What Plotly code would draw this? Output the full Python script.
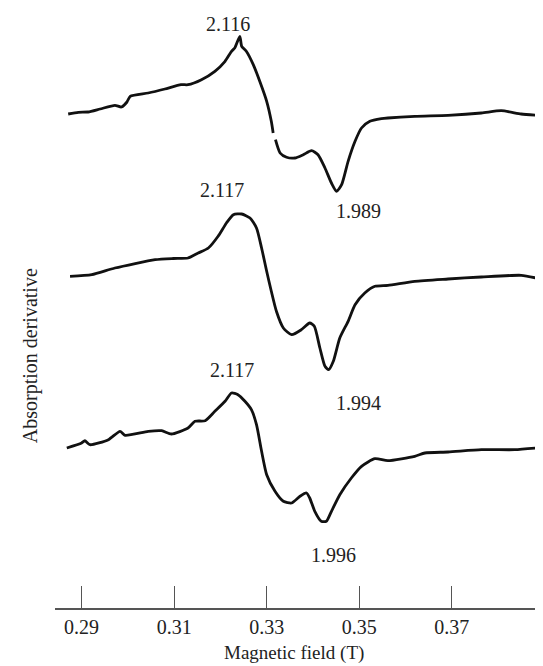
import plotly.graph_objects as go

# Magnetic field (T) and derivative signal (arbitrary units, baseline = 0)
field_a = [0.2871, 0.2893, 0.2914, 0.2940, 0.2972, 0.2986, 0.2998, 0.3005, 0.3044, 0.3080,
           0.3115, 0.3130, 0.3159, 0.3188, 0.3210, 0.3224, 0.3231, 0.3242, 0.3246, 0.3256,
           0.3271, 0.3285, 0.3300, 0.3310, 0.3314, None, 0.3319, 0.3329, 0.3343, 0.3361,
           0.3379, 0.3397, 0.3411, 0.3426, 0.3440, 0.3451, 0.3462, 0.3476, 0.3491, 0.3505,
           0.3523, 0.3548, 0.3562, 0.3620, 0.3692, 0.3764, 0.3807, 0.3850, 0.3883]
signal_a = [0, 1.7, 2, 5, 8.7, 7, 12, 17.7, 21, 25,
            29.3, 29.3, 34.3, 42.7, 52.7, 62.7, 66, 77.7, 67.7, 62.7,
            49.3, 32.7, 12.7, -7.3, -19, None, -25.7, -39, -43.3, -44,
            -40.7, -36.7, -40.7, -54, -69, -77.3, -70.7, -47.3, -27.3, -14,
            -7.3, -4.7, -4, -2.3, -1.3, 1, 3.3, 0, -1.3]

field_b = [0.2875, 0.2922, 0.2972, 0.3059, 0.3098, 0.3130, 0.3152, 0.3174, 0.3195, 0.3213,
           0.3228, 0.3246, 0.3264, 0.3278, 0.3289, 0.3300, 0.3310, 0.3321, 0.3336, 0.3354,
           0.3375, 0.3393, 0.3403, 0.3415, 0.3426, 0.3434, 0.3444, 0.3458, 0.3476, 0.3491,
           0.3512, 0.3534, 0.3562, 0.3620, 0.3692, 0.3764, 0.3850, 0.3883]
signal_b = [-0.3, 1.3, 8, 16.3, 17.5, 18, 23, 28, 39.7, 53,
            61.3, 62, 58, 48, 28, 4.7, -15.3, -35.3, -52, -58.7,
            -53.7, -47, -50.3, -72, -90.3, -93.7, -85.3, -62, -45.3, -28.7,
            -17, -10.3, -9.3, -5.3, -3, -1, 0.7, -2]

field_c = [0.2868, 0.2900, 0.2907, 0.2918, 0.2958, 0.2983, 0.2994, 0.3044, 0.3073, 0.3094,
           0.3130, 0.3145, 0.3167, 0.3188, 0.3210, 0.3224, 0.3238, 0.3253, 0.3267, 0.3278,
           0.3289, 0.3300, 0.3318, 0.3336, 0.3354, 0.3372, 0.3386, 0.3393, 0.3404, 0.3418,
           0.3429, 0.3440, 0.3458, 0.3483, 0.3505, 0.3534, 0.3562, 0.3620, 0.3642, 0.3692,
           0.3764, 0.3836, 0.3883]
signal_c = [0, 5, 7.3, 3.3, 8.3, 16.7, 12.7, 16.7, 17.3, 14,
            20, 26.7, 27.3, 36.7, 46.7, 55, 53.3, 46.7, 38.3, 23.3,
            -3.3, -26.7, -43.3, -53.3, -55, -48.3, -45, -50, -63.3, -73.3,
            -73.3, -63.3, -46.7, -30, -18.3, -10.7, -12.7, -8.3, -5, -4,
            -1.7, -1.7, 0]

offsets = [504, 342, 170]

# g-value labels: (text, field, signal relative to its spectrum)
labels_a = [("2.116", 0.3217, 90.5), ("1.989", 0.3498, -97.3)]
labels_b = [("2.117", 0.3204, 86.3), ("1.994", 0.3498, -127)]
labels_c = [("2.117", 0.3224, 78.3), ("1.996", 0.3444, -106.7)]

tick_vals = [0.29, 0.31, 0.33, 0.35, 0.37]
tick_text = ["0.29", "0.31", "0.33", "0.35", "0.37"]

FONT = "Liberation Serif, Times New Roman, serif"

fig = go.Figure()
annotations = []
for fx, sy, off, labs in [(field_a, signal_a, offsets[0], labels_a),
                          (field_b, signal_b, offsets[1], labels_b),
                          (field_c, signal_c, offsets[2], labels_c)]:
    yv = [None if s is None else s + off for s in sy]
    fig.add_trace(go.Scatter(x=fx, y=yv, mode="lines",
                             line=dict(color="#111111", width=2.8, shape="spline", smoothing=0.6),
                             connectgaps=False, showlegend=False, hoverinfo="skip"))
    for t, lx, ly in labs:
        annotations.append(dict(x=lx, y=ly + off, xref="x", yref="y", text=t,
                                showarrow=False, font=dict(family=FONT, size=20, color="#222222"),
                                xanchor="center", yanchor="middle"))

# plot area spans 0..600 px; title centred near 645 px
annotations.append(dict(x=0.4815, y=-45 / 600, xref="paper", yref="paper",
                        text="Magnetic field (T)", showarrow=False,
                        font=dict(family=FONT, size=19, color="#222222"),
                        xanchor="center", yanchor="middle"))
annotations.append(dict(x=-0.05, y=(600 - 348) / 600, xref="paper", yref="paper",
                        text="Absorption derivative", showarrow=False, textangle=-90,
                        font=dict(family=FONT, size=20, color="#222222"),
                        xanchor="center", yanchor="middle"))

fig.update_layout(
    width=543, height=666,
    margin=dict(l=47, r=0, t=0, b=66),
    paper_bgcolor="white", plot_bgcolor="white",
    annotations=annotations,
    xaxis=dict(range=[0.28425, 0.39145], tickvals=tick_vals, ticktext=tick_text,
               ticks="inside", ticklen=22, tickwidth=1.2, tickcolor="#555555",
               showline=True, linecolor="#555555", linewidth=1.6,
               showgrid=False, zeroline=False,
               tickfont=dict(family=FONT, size=20, color="#222222")),
    yaxis=dict(range=[10, 610], visible=False, showgrid=False, zeroline=False),
)

fig.write_html("out.html")
